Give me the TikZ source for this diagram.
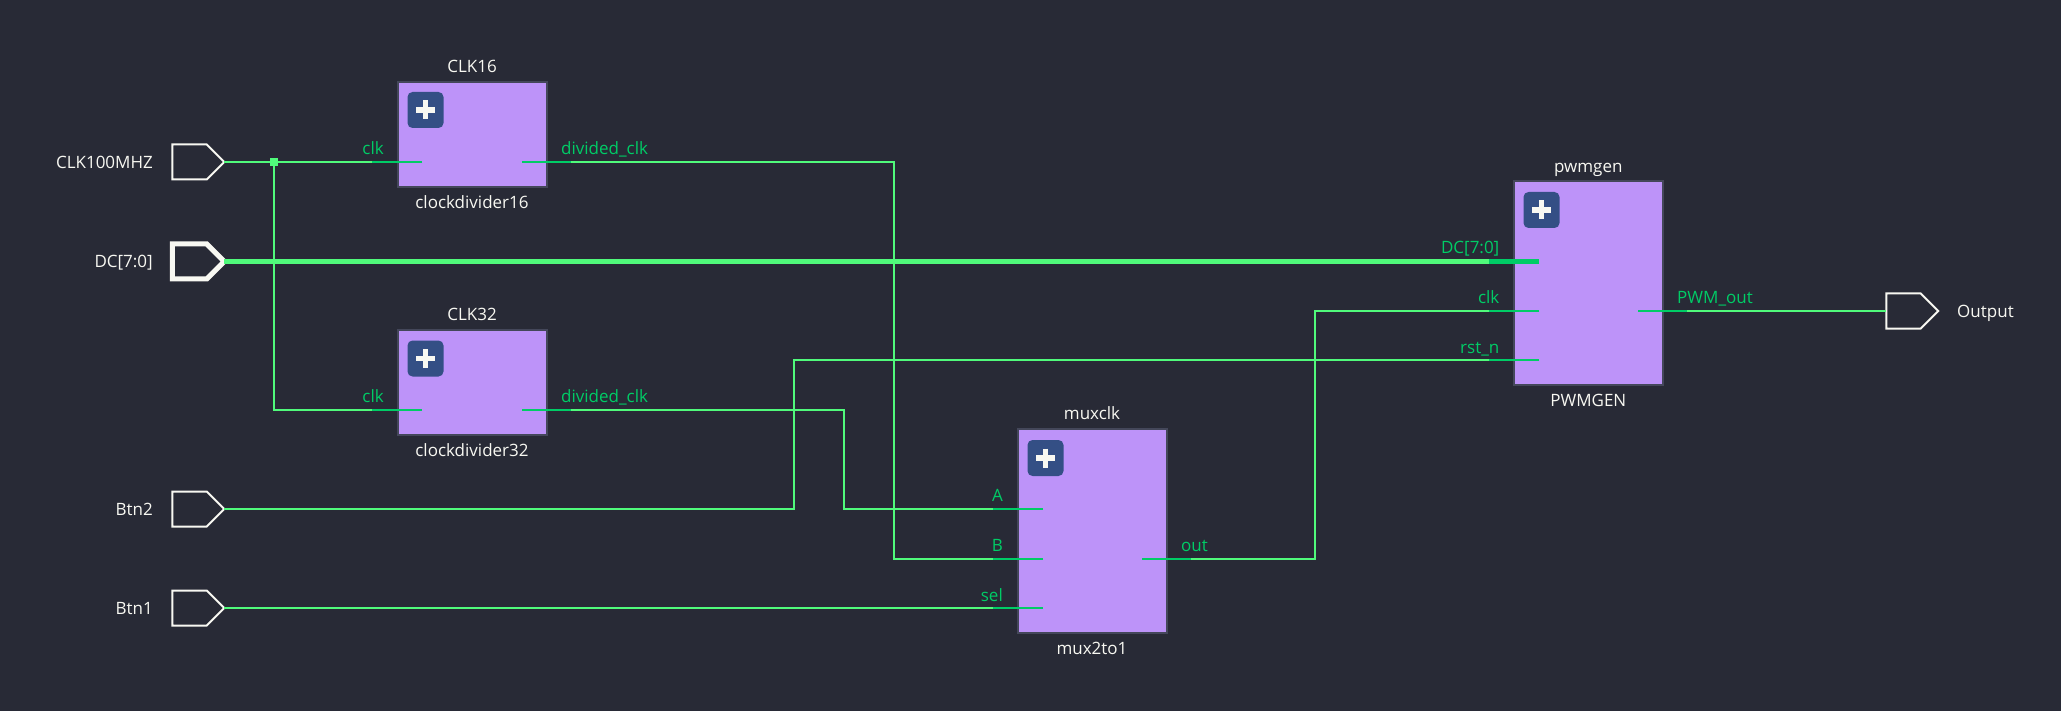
\documentclass[tikz,border=0pt]{standalone}
\usepackage{fontspec}
\setmainfont{Open Sans}
\usetikzlibrary{shapes.symbols}
\definecolor{bgcol}{HTML}{282A36}
\definecolor{blockcol}{HTML}{BD93F9}
\definecolor{edgecol}{HTML}{44475A}
\definecolor{wirecol}{HTML}{50FA7B}
\definecolor{pincol}{HTML}{00CC66}
\definecolor{textcol}{HTML}{F8F8F2}
\definecolor{btncol}{HTML}{344F85}
\tikzset{
	block/.style={draw=edgecol,fill=blockcol,line width=2pt,inner sep=0,outer sep=0},
	plusbtn/.style={fill=btncol,rounded corners=5pt,minimum width=36,minimum height=36,inner sep=0,
		path picture={\draw[textcol,line width=5.5pt] (path picture bounding box.center) +(-9.5,0)--+(9.5,0) +(0,-9.5)--+(0,9.5);}},
	port/.style={draw=textcol,signal,signal to=east,signal from=nowhere,signal pointer angle=90,
		minimum width=52,minimum height=35,inner sep=0,outer sep=0,line width=2pt},
	wire/.style={wirecol,line width=2pt},
	bus/.style={wirecol,line width=5pt},
	stub/.style={pincol,line width=2pt},
	stubbus/.style={pincol,line width=5pt},
	txt/.style={text=textcol,inner sep=0,text height=13pt,text depth=4pt,font=\fontsize{17}{20}\selectfont},
	pinl/.style={text=pincol,inner sep=0,text height=13pt,text depth=4pt,font=\fontsize{17}{20}\selectfont},
}
\begin{document}
\begin{tikzpicture}[x=1pt,y=-1pt]
	\fill[bgcol] (0,0) rectangle (2061,711);
	\useasboundingbox (0,0) rectangle (2061,711);
	\node[port] (clkin) at (189.5,162) {};
	\node[port,line width=5pt] (dcin) at (189.5,261.5) {};
	\node[port] (btn2) at (189.5,509) {};
	\node[port] (btn1) at (189.5,608) {};
	\node[port] (outp) at (1903.5,311) {};
	\node[fill=wirecol,minimum size=8,inner sep=0] (jclk) at (274,162) {};
	\coordinate (c16clk) at (422,162);
	\coordinate (c16out) at (522,162);
	\coordinate (c32clk) at (422,410);
	\coordinate (c32out) at (522,410);
	\coordinate (muxa) at (1043,508.7);
	\coordinate (muxb) at (1043,558.7);
	\coordinate (muxsel) at (1043,608);
	\coordinate (muxout) at (1142,558.7);
	\coordinate (pwmdc) at (1539,261.5);
	\coordinate (pwmclk) at (1539,311);
	\coordinate (pwmrst) at (1539,360);
	\coordinate (pwmout) at (1638,311);
	\coordinate (bendb) at (894,162);
	\coordinate (benda) at (844,410);
	\coordinate (bendrst) at (794,509);
	\coordinate (bendout) at (1315,558.7);
	\draw[wire] (clkin.east)--(jclk)--(c16clk);
	\draw[wire] (jclk) |- (c32clk);
	\draw[wire] (c16out)--(bendb) |- (muxb);
	\draw[wire] (c32out)--(benda) |- (muxa);
	\draw[wire] (btn2.east)--(bendrst) |- (pwmrst);
	\draw[wire] (btn1.east)--(muxsel);
	\draw[wire] (muxout)--(bendout) |- (pwmclk);
	\draw[wire] (pwmout)--(outp.west);
	\draw[bus] (dcin.east)--(pwmdc);
	\node[block,minimum width=149,minimum height=105] (clk16) at (472,134.5) {};
	\node[block,minimum width=149,minimum height=105] (clk32) at (472,382.8) {};
	\node[block,minimum width=149,minimum height=204] (muxclk) at (1092.3,531) {};
	\node[block,minimum width=149,minimum height=204] (pwmgen) at (1588.3,283) {};
	\node[plusbtn] at (425.5,110) {};
	\node[plusbtn] at (425.5,358.5) {};
	\node[plusbtn] at (1045.5,458) {};
	\node[plusbtn] at (1541.5,210) {};
	\foreach \p in {c16clk,c32clk,muxa,muxb,muxsel,pwmclk,pwmrst}
		\draw[stub] (\p)--++(-50,0);
	\foreach \p in {c16out,c32out,muxout,pwmout}
		\draw[stub] (\p)--++(49,0);
	\draw[stubbus] (pwmdc)--++(-50,0);
	\node[txt,anchor=east] (lclkin) at (153,164) {CLK100MHZ};
	\node[txt,anchor=east] (ldcin) at (153,263.5) {DC[7:0]};
	\node[txt,anchor=east] (lbtn2) at (153,511) {Btn2};
	\node[txt,anchor=east] (lbtn1) at (153,610) {Btn1};
	\node[txt,anchor=west] (loutp) at (1957,313) {Output};
	\node[txt] (n16) at (472,68) {CLK16};
	\node[txt] (m16) at (472,204) {clockdivider16};
	\node[txt] (n32) at (472,316) {CLK32};
	\node[txt] (m32) at (472,452) {clockdivider32};
	\node[txt] (nmux) at (1092,415) {muxclk};
	\node[txt] (mmux) at (1092,650) {mux2to1};
	\node[txt] (npwm) at (1588.3,168) {pwmgen};
	\node[txt] (mpwm) at (1588.3,402) {PWMGEN};
	\node[pinl,anchor=east] at (384,150) {clk};
	\node[pinl,anchor=west] at (561,150) {divided\_clk};
	\node[pinl,anchor=east] at (384,398) {clk};
	\node[pinl,anchor=west] at (561,398) {divided\_clk};
	\node[pinl,anchor=east] at (1003,497) {A};
	\node[pinl,anchor=east] at (1003,547) {B};
	\node[pinl,anchor=east] at (1003,597) {sel};
	\node[pinl,anchor=west] at (1181,547) {out};
	\node[pinl,anchor=east] at (1499.5,249) {DC[7:0]};
	\node[pinl,anchor=east] at (1499.5,299) {clk};
	\node[pinl,anchor=east] at (1499.5,349) {rst\_n};
	\node[pinl,anchor=west] at (1677,299) {PWM\_out};
\end{tikzpicture}
\end{document}
